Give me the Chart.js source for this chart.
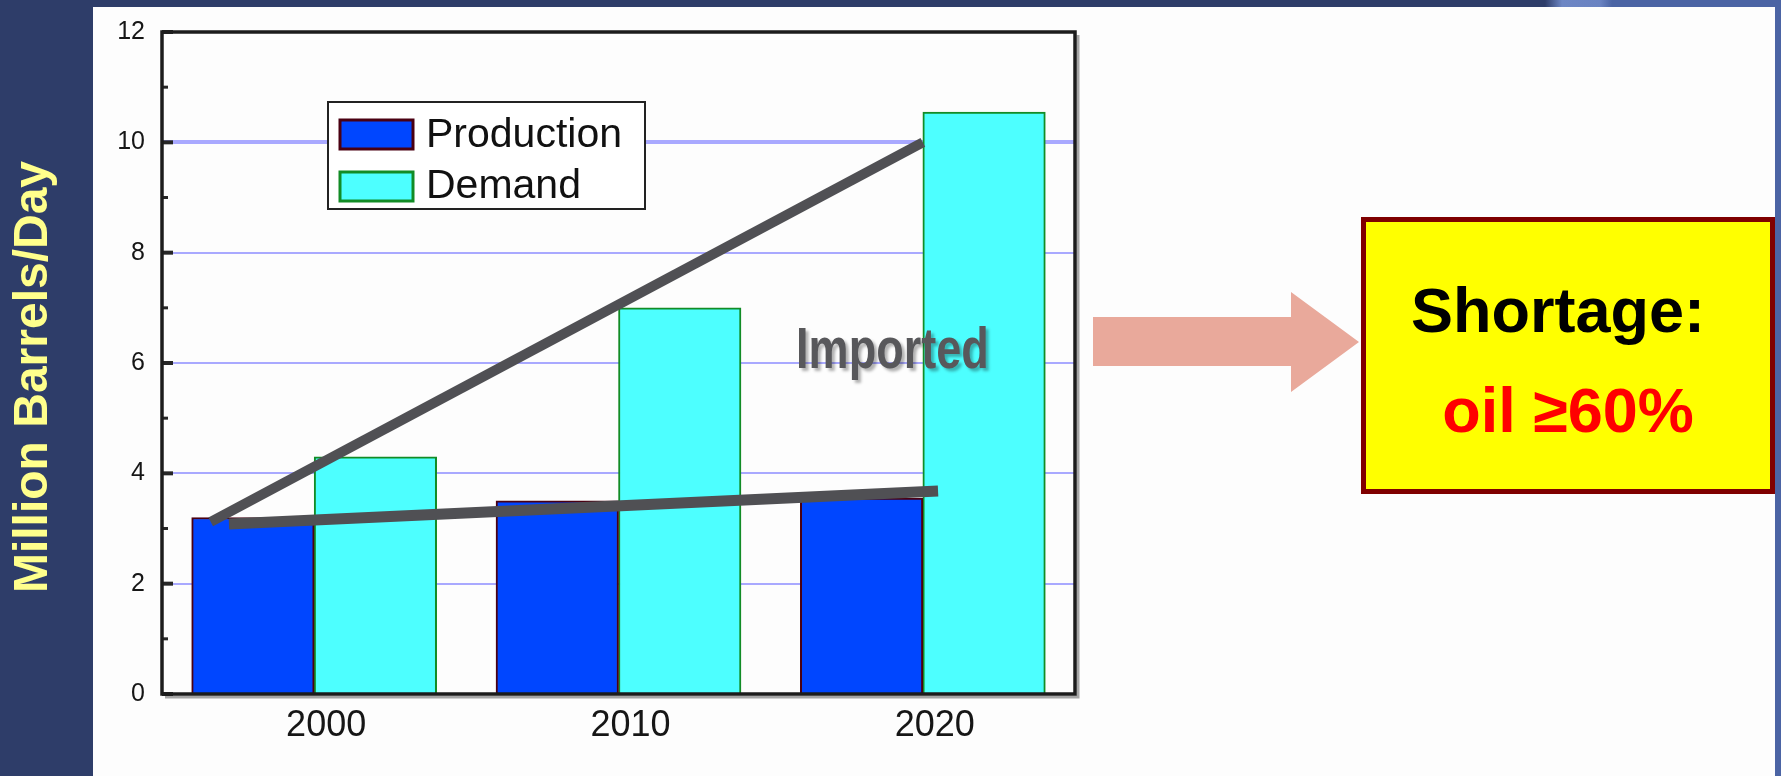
<!DOCTYPE html>
<html>
<head>
<meta charset="utf-8">
<title>Oil production and demand</title>
<script src="https://cdn.jsdelivr.net/npm/chart.js@4.4.1/dist/chart.umd.min.js"></script>
<style>
  html, body { margin: 0; padding: 0; }
  body {
    width: 1781px; height: 776px; position: relative; overflow: hidden;
    background: #2e3d69;
    font-family: "Liberation Sans", Arial, sans-serif;
  }
  #topbar {
    position: absolute; left: 0; top: 0; width: 1781px; height: 7px;
    background: linear-gradient(to right, #2e3d69 0, #2e3d69 1545px, #6d86c4 1562px, #6a83c2 1600px, #4b64a4 1612px, #4b64a4 100%);
  }
  #rightbar { position: absolute; left: 1775px; top: 0; width: 6px; height: 776px; background: #4b64a4; }
  #panel { position: absolute; left: 93px; top: 7px; width: 1682px; height: 769px; background: #fdfdfd; }
  #chart { position: absolute; left: 0; top: 0; }
  #ytitle {
    position: absolute; left: -219px; top: 353px; width: 500px; height: 48px;
    line-height: 48px; font-size: 48px; font-weight: bold; color: #ffff8c;
    text-align: center; white-space: nowrap; transform: rotate(-90deg);
  }
  #arrow { position: absolute; left: 0; top: 0; }
  #callout {
    position: absolute; left: 1361px; top: 217px; width: 414px; height: 277px;
    box-sizing: border-box; border: 5px solid #7f0000; background: #ffff00;
  }
  #callout div {
    position: absolute; font-size: 63px; line-height: 63px; font-weight: bold;
    text-align: center; white-space: nowrap;
  }
  #shortage { left: 0; top: 57px; width: 384px; color: #000; }
  #share { left: 0; top: 157px; width: 404px; color: #ff0000; }
</style>
</head>
<body>
<div id="topbar"></div>
<div id="rightbar"></div>
<div id="panel"></div>
<canvas id="chart" width="1781" height="776"></canvas>
<div id="ytitle">Million Barrels/Day</div>
<svg id="arrow" width="1781" height="776">
  <polygon points="1093,317 1291,317 1291,292 1359,342 1291,392 1291,366 1093,366" fill="#e9a99b"/>
</svg>
<div id="callout">
  <div id="shortage">Shortage:</div>
  <div id="share">oil ≥60%</div>
</div>

<script>
const years = ['2000', '2010', '2020'];
const production = [3.2, 3.5, 3.55];
const demand = [4.3, 7.0, 10.55];
const yMax = 12;

// hand-drawn trend strokes, x in year slots (0 = 2000, 1 = 2010, 2 = 2020)
const productionTrendX = [-0.28, 2.05];
const productionTrendY = [3.08, 3.68];
const demandTrendX = [-0.34, 2.0];
const demandTrendY = [3.12, 10.0];

const toPoints = (xs, ys) => xs.map((x, i) => ({ x: x, y: ys[i] }));

// each year slot is 80% filled by its pair of bars
const groupShare = 0.805;
const barWidth = c => c.chart.scales.x.width / years.length * groupShare / 2;

Chart.defaults.font.family = '"Liberation Sans", Arial, sans-serif';

// frame, inner ticks, boxed legend and the "Imported" note
const decor = {
  id: 'decor',
  afterDatasetsDraw(chart) {
    const ctx = chart.ctx;
    const a = chart.chartArea;
    const y = chart.scales.y;
    const xt = chart.scales.xTrend;
    ctx.save();

    ctx.strokeStyle = '#262626';
    for (let v = 0; v <= yMax; v++) {
      const py = y.getPixelForValue(v);
      ctx.lineWidth = v % 2 ? 3 : 4;
      ctx.beginPath();
      ctx.moveTo(a.left, py);
      ctx.lineTo(a.left + (v % 2 ? 6 : 11), py);
      ctx.stroke();
    }

    ctx.strokeStyle = 'rgba(0,0,0,0.35)';
    ctx.lineWidth = 3;
    ctx.beginPath();
    ctx.moveTo(a.left + 3, a.bottom + 3);
    ctx.lineTo(a.right + 3, a.bottom + 3);
    ctx.lineTo(a.right + 3, a.top + 3);
    ctx.stroke();
    ctx.strokeStyle = '#1c1c1c';
    ctx.lineWidth = 3.5;
    ctx.strokeRect(a.left, a.top, a.right - a.left, a.bottom - a.top);

    // legend box
    const lx = a.left + 166, ly = a.top + 70;
    ctx.fillStyle = '#ffffff';
    ctx.fillRect(lx, ly, 317, 107);
    ctx.strokeStyle = '#222';
    ctx.lineWidth = 2;
    ctx.strokeRect(lx, ly, 317, 107);
    ctx.font = '41px "Liberation Sans", Arial, sans-serif';
    ctx.textBaseline = 'alphabetic';
    ctx.textAlign = 'left';
    chart.data.datasets.filter(d => d.type !== 'line').forEach((d, i) => {
      const sy = ly + 18 + i * 52;
      ctx.fillStyle = d.backgroundColor;
      ctx.fillRect(lx + 12, sy, 73, 29);
      ctx.strokeStyle = d.borderColor;
      ctx.lineWidth = 3;
      ctx.strokeRect(lx + 12, sy, 73, 29);
      ctx.fillStyle = '#111';
      ctx.fillText(d.label, lx + 98, ly + 45 + i * 51);
    });

    // note between the trend strokes
    const nx = xt.getPixelForValue(1.9);
    const ny = y.getPixelForValue(5.91);
    ctx.translate(nx, ny);
    ctx.scale(0.79, 1);
    ctx.font = 'bold 57px "Liberation Sans", Arial, sans-serif';
    ctx.textAlign = 'center';
    ctx.shadowColor = 'rgba(0,0,0,0.3)';
    ctx.shadowOffsetX = 3;
    ctx.shadowOffsetY = 3;
    ctx.shadowBlur = 3;
    ctx.fillStyle = '#58585b';
    ctx.fillText('Imported', 0, 0);

    ctx.restore();
  }
};

new Chart(document.getElementById('chart'), {
  type: 'bar',
  data: {
    labels: years,
    datasets: [
      {
        type: 'line',
        label: 'Demand trend',
        data: toPoints(demandTrendX, demandTrendY),
        xAxisID: 'xTrend',
        borderColor: '#505054',
        borderWidth: 10,
        borderCapStyle: 'butt',
        pointRadius: 0,
        order: 0
      },
      {
        type: 'line',
        label: 'Production trend',
        data: toPoints(productionTrendX, productionTrendY),
        xAxisID: 'xTrend',
        borderColor: '#505054',
        borderWidth: 11,
        borderCapStyle: 'butt',
        pointRadius: 0,
        order: 0
      },
      {
        label: 'Production',
        data: production,
        xAxisID: 'x',
        backgroundColor: '#0046ff',
        borderColor: '#4a0012',
        borderWidth: 2,
        barThickness: barWidth,
        order: 1
      },
      {
        label: 'Demand',
        data: demand,
        xAxisID: 'x',
        backgroundColor: '#4dffff',
        borderColor: '#128c26',
        borderWidth: 2,
        barThickness: barWidth,
        order: 1
      }
    ]
  },
  options: {
    responsive: false,
    animation: false,
    layout: { padding: { left: 92, top: 22, right: 706, bottom: 22 } },
    plugins: {
      legend: { display: false },
      tooltip: { enabled: false }
    },
    scales: {
      x: {
        grid: { display: false, drawTicks: false },
        border: { display: false },
        ticks: { padding: 10, labelOffset: 12, color: '#161616', font: { size: 36 } },
        afterFit(s) { s.height = 60; }
      },
      xTrend: {
        type: 'linear',
        display: false,
        position: 'bottom',
        offset: false,
        min: -0.5,
        max: 2.5
      },
      y: {
        min: 0,
        max: yMax,
        ticks: { stepSize: 2, padding: 17, color: '#161616', font: { size: 25 } },
        grid: {
          drawTicks: false,
          color: c => (c.tick.value === 0 || c.tick.value === yMax) ? 'rgba(0,0,0,0)' : '#a9a9ff',
          lineWidth: c => c.tick.value === 10 ? 4 : 2
        },
        border: { display: false },
        afterFit(s) { s.width = 70; }
      }
    }
  },
  plugins: [decor]
});
</script>
</body>
</html>
